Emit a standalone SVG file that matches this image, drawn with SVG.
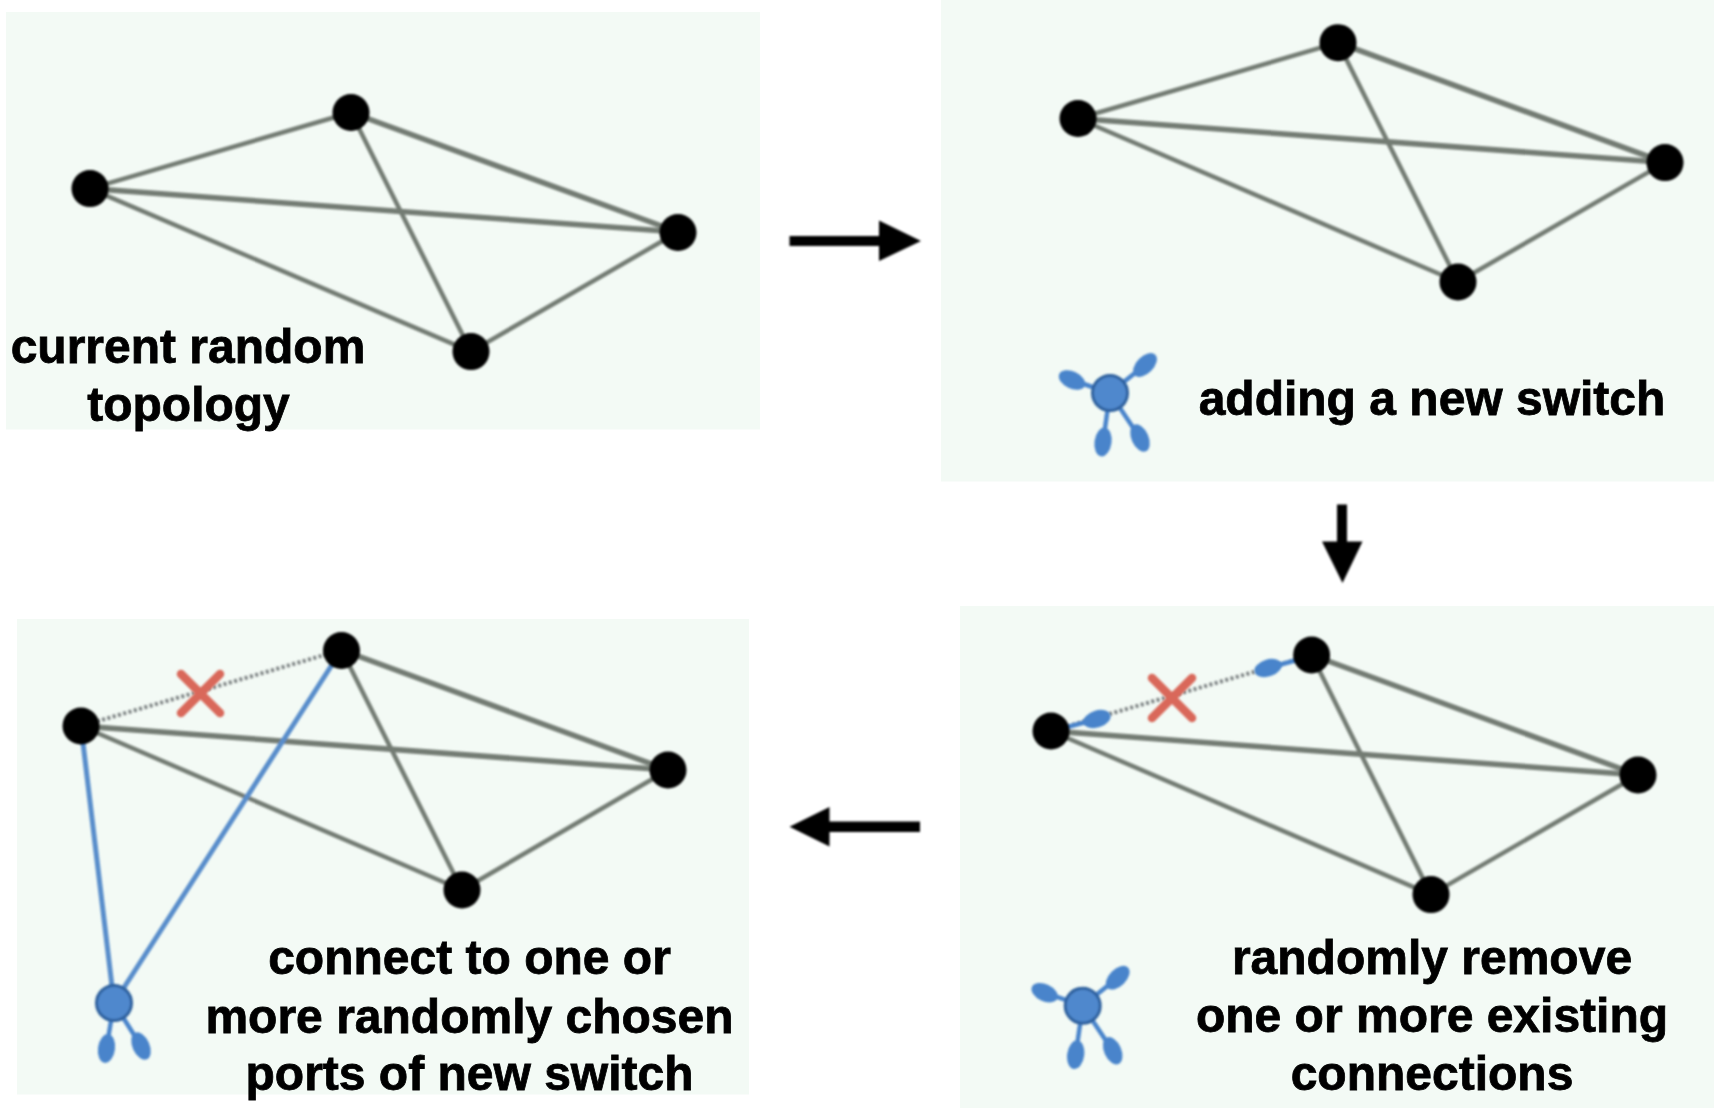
<svg xmlns="http://www.w3.org/2000/svg" width="1714" height="1116" viewBox="0 0 1714 1116">
<style>
.panel{fill:#f3faf5}
.e{stroke:#737b73;stroke-width:5.5;fill:none;stroke-linecap:round}
.t{stroke-width:4.5}
.d{stroke:#7c8182;stroke-width:4;stroke-dasharray:3 2.500;fill:none}
.b{stroke:#588dcb;stroke-width:5;fill:none}
.n{fill:#030503}
.x{stroke:#d9675a;stroke-width:8.500;stroke-linecap:round;fill:none}
.sw{fill:#4f88cd;stroke:#2d609e;stroke-width:3}
.port{fill:#4a84cb}
.stem{stroke:#4a84cb;stroke-width:4.500;fill:none}
.lbl{font-family:"Liberation Sans",Arial,sans-serif;font-weight:700;font-size:48px;fill:#000;text-anchor:middle;stroke:#000;stroke-width:.8}
.arrow{fill:#000}
</style>
<defs>
<filter id="soft" x="-5%" y="-5%" width="110%" height="110%"><feGaussianBlur stdDeviation="0.9"/></filter>
<g id="sw4">
<path class="stem" d="M0 0L-38-13M0 0L35-28M0 0L-7 49M0 0L30 45"/>
<ellipse class="port" cx="-38" cy="-13" rx="14" ry="8.500" transform="rotate(25 -38 -13)"/>
<ellipse class="port" cx="35" cy="-28" rx="14.500" ry="8.500" transform="rotate(-45 35 -28)"/>
<ellipse class="port" cx="-7" cy="49" rx="8.500" ry="14.500" transform="rotate(8 -7 49)"/>
<ellipse class="port" cx="30" cy="45" rx="8.500" ry="14.500" transform="rotate(-24 30 45)"/>
<circle class="sw" r="17.500"/>
</g>
</defs>

<g id="panels">
<rect class="panel" x="6" y="12" width="754" height="417.500"/>
<rect class="panel" x="941" y="0" width="773" height="481.500"/>
<rect class="panel" x="17" y="619" width="732" height="475.500"/>
<rect class="panel" x="960" y="606" width="754" height="502"/>
</g>

<g id="connectors" filter="url(#soft)">
<g id="edges-a">
<path class="e t" d="M90 188.600L351 112.500"/><path class="e" d="M90 188.600L678 232"/><path class="e t" d="M90 188.600L471 351.600"/>
<path class="e" d="M351 112.500L678 232"/><path class="e t" d="M351 112.500L471 351.600"/><path class="e t" d="M678 232L471 351.600"/>
</g>
<g id="edges-b">
<path class="e t" d="M1078 118.500L1338 42.700"/><path class="e" d="M1078 118.500L1665 162.600"/><path class="e t" d="M1078 118.500L1458 282"/>
<path class="e" d="M1338 42.700L1665 162.600"/><path class="e t" d="M1338 42.700L1458 282"/><path class="e t" d="M1665 162.600L1458 282"/>
</g>
<g id="edges-c">
<path class="d" d="M1051 731L1312 655"/>
<path class="stem" d="M1060 729L1097 719M1268 668L1304 658"/>
<path class="e" d="M1051 731L1638 775"/><path class="e t" d="M1051 731L1431 894.600"/>
<path class="e" d="M1311.600 655L1638 775"/><path class="e t" d="M1311.600 655L1431 894.600"/><path class="e t" d="M1638 775L1431 894.600"/>
</g>
<g id="edges-d">
<path class="d" d="M81 726L341.500 650"/>
<path class="e" d="M81 726L668 770"/><path class="e t" d="M81 726L462 890"/>
<path class="e" d="M341.500 650L668 770"/><path class="e t" d="M341.500 650L462 890"/><path class="e t" d="M668 770L462 890"/>
<path class="b" d="M81 726L114 1003M341.500 650L114 1003"/>
</g>
<path id="arrow-right" class="arrow" d="M789.500 236H879V220.500L921 241L879 261V246H789.500Z"/>
<path id="arrow-down" class="arrow" d="M1337 504.500H1347V541.500H1362.500L1342.500 583L1322 541.500H1337Z"/>
<path id="arrow-left" class="arrow" d="M920 821.500V832H829.500V846.500L789.500 826.700L829.500 807V821.500Z"/>
</g>

<g filter="url(#soft)">
<g id="a-n1"><circle class="n" cx="90" cy="188.600" r="18.500"/></g>
<g id="a-n2"><circle class="n" cx="351" cy="112.500" r="18.500"/></g>
<g id="a-n3"><circle class="n" cx="678" cy="232.500" r="18.500"/></g>
<g id="a-n4"><circle class="n" cx="471" cy="351.600" r="18.500"/></g>

<g id="b-n1"><circle class="n" cx="1078" cy="118.500" r="18.500"/></g>
<g id="b-n2"><circle class="n" cx="1338" cy="42.700" r="18.500"/></g>
<g id="b-n3"><circle class="n" cx="1665" cy="162.600" r="18.500"/></g>
<g id="b-n4"><circle class="n" cx="1458" cy="282" r="18.500"/></g>
<g id="b-switch"><use href="#sw4" x="1110" y="393"/></g>

<g id="c-n1"><circle class="n" cx="1051" cy="731" r="18.500"/></g>
<g id="c-n2"><circle class="n" cx="1311.600" cy="655" r="18.500"/></g>
<g id="c-n3"><circle class="n" cx="1638" cy="775" r="18.500"/></g>
<g id="c-n4"><circle class="n" cx="1431" cy="894.600" r="18.500"/></g>
<g id="c-switch"><use href="#sw4" x="1082.700" y="1005.700"/></g>
<g id="c-ports">
<ellipse class="port" cx="1097" cy="719" rx="14" ry="8.500" transform="rotate(-18 1097 719)"/>
<ellipse class="port" cx="1268" cy="668" rx="14" ry="8.500" transform="rotate(-18 1268 668)"/>
</g>
<g id="c-x"><path class="x" d="M1152 678L1192 718M1192 678L1152 718"/></g>

<g id="d-n1"><circle class="n" cx="81" cy="726" r="18.500"/></g>
<g id="d-n2"><circle class="n" cx="341.500" cy="650.500" r="18.500"/></g>
<g id="d-n3"><circle class="n" cx="668" cy="770" r="18.500"/></g>
<g id="d-n4"><circle class="n" cx="462" cy="890" r="18.500"/></g>
<g id="d-switch">
<path class="stem" d="M114 1003L106.500 1048M114 1003L141 1046"/>
<ellipse class="port" cx="106.500" cy="1048.500" rx="8.500" ry="14.500" transform="rotate(8 106.500 1048.500)"/>
<ellipse class="port" cx="141" cy="1046" rx="8.500" ry="14.500" transform="rotate(-24 141 1046)"/>
<circle class="sw" cx="114" cy="1003" r="17.500"/>
</g>
<g id="d-x"><path class="x" d="M181 674L220 713M220 674L181 713"/></g>
</g>

<g id="labels">
<text class="lbl" x="188" y="363">current random</text>
<text class="lbl" x="188.500" y="421">topology</text>
<text class="lbl" x="1432" y="414.500">adding a new switch</text>
<text class="lbl" x="1432" y="974">randomly remove</text>
<text class="lbl" x="1432" y="1032">one or more existing</text>
<text class="lbl" x="1432" y="1090">connections</text>
<text class="lbl" x="469.500" y="974">connect to one or</text>
<text class="lbl" x="469.500" y="1033">more randomly chosen</text>
<text class="lbl" x="469.500" y="1090">ports of new switch</text>
</g>
</svg>
